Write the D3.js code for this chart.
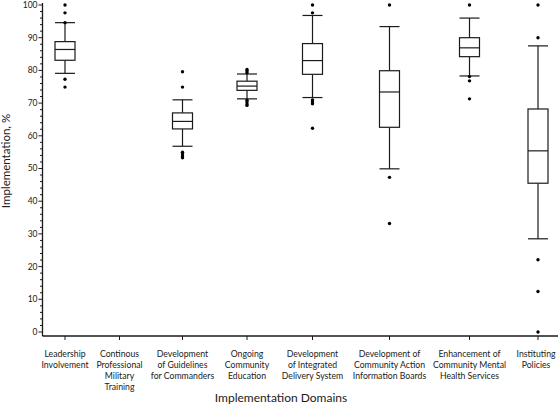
<!DOCTYPE html>
<html>
<head>
<meta charset="utf-8">
<script src="https://cdn.jsdelivr.net/npm/d3@7"></script>
<style>
  html, body { margin: 0; padding: 0; background: #fff; }
  svg { display: block; font-family: Lato, "Open Sans", sans-serif; }
</style>
</head>
<body>
<svg id="chart" width="558" height="409"></svg>
<script>
// ---- Data ----
const categories = [
  "Leadership Involvement",
  "Continous Professional Military Training",
  "Development of Guidelines for Commanders",
  "Ongoing Community Education",
  "Development of Integrated Delivery System",
  "Development of Community Action Information Boards",
  "Enhancement of Community Mental Health Services",
  "Instituting Policies"
];
const categoryLabelLines = [
  ["Leadership", "Involvement"],
  ["Continous", "Professional", "Military", "Training"],
  ["Development", "of Guidelines", "for Commanders"],
  ["Ongoing", "Community", "Education"],
  ["Development", "of Integrated", "Delivery System"],
  ["Development of", "Community Action", "Information Boards"],
  ["Enhancement of", "Community Mental", "Health Services"],
  ["Instituting", "Policies"]
];
const whiskerLow  = [79.1, null, 56.8, 71.3, 71.7, 49.9, 78.3, 28.5];
const q1          = [83.1, null, 62.1, 73.9, 78.8, 62.6, 84.2, 45.5];
const median      = [86.4, null, 64.4, 75.2, 83.0, 73.4, 86.9, 55.4];
const q3          = [88.8, null, 67.0, 76.7, 88.2, 79.9, 90.0, 68.2];
const whiskerHigh = [94.6, null, 71.0, 78.9, 96.8, 93.4, 96.0, 87.5];
const outliers = [
  [100, 97.6, 94.6, 77.3, 74.9],
  [],
  [79.6, 74.9, 55.0, 54.4, 53.8, 53.3],
  [80.3, 79.8, 79.3, 70.9, 70.3, 69.7, 69.3],
  [100, 97.6, 71.0, 70.4, 69.8, 62.3],
  [100, 47.3, 33.2],
  [100, 78.1, 76.8, 71.3],
  [100, 90.0, 22.1, 12.4, 0]
];
const yMajorTicks = [0, 10, 20, 30, 40, 50, 60, 70, 80, 90, 100];
const yMinorTicks = d3.range(0, 101, 2);
const yTitle = "Implementation, %";
const xTitle = "Implementation Domains";

// ---- Layout ----
const W = 558;
const svg = d3.select("#chart");
const axisX = 42.5, axisBottom = 336;
const y = d3.scaleLinear().domain([0, 100]).range([332, 5]);
const x = d3.scaleOrdinal()
  .domain(categories)
  .range([65, 119.5, 182.5, 247, 312.5, 389.5, 469.5, 538]);
const boxW = 20;
const ink = "#1a1a1a";

// Y axis
const gy = svg.append("g");
gy.append("line").attr("x1", axisX).attr("x2", axisX).attr("y1", 3).attr("y2", axisBottom)
  .attr("stroke", ink).attr("stroke-width", 1.3);
gy.selectAll(".minor").data(yMinorTicks.filter(v => v % 10 !== 0)).join("line")
  .attr("x1", axisX - 2.5).attr("x2", axisX)
  .attr("y1", d => y(d)).attr("y2", d => y(d))
  .attr("stroke", ink).attr("stroke-width", 1);
gy.selectAll(".major").data(yMajorTicks).join("line")
  .attr("x1", axisX - 4).attr("x2", axisX)
  .attr("y1", d => y(d)).attr("y2", d => y(d))
  .attr("stroke", ink).attr("stroke-width", 1);
gy.selectAll("text").data(yMajorTicks).join("text")
  .attr("x", axisX - 5).attr("y", d => y(d)).attr("dy", "0.35em")
  .attr("text-anchor", "end").attr("font-size", 8.5).attr("fill", ink)
  .text(d => d);

// X axis
const gx = svg.append("g");
gx.append("line").attr("x1", axisX).attr("x2", W).attr("y1", axisBottom).attr("y2", axisBottom)
  .attr("stroke", ink).attr("stroke-width", 1.3);
gx.selectAll(".tick").data(categories).join("line")
  .attr("x1", d => x(d)).attr("x2", d => x(d))
  .attr("y1", axisBottom).attr("y2", axisBottom + 4)
  .attr("stroke", ink).attr("stroke-width", 1);
gx.selectAll(".lbl").data(categories).join("text")
  .attr("text-anchor", "middle").attr("font-size", 8.7).attr("fill", ink)
  .attr("transform", d => `translate(${x(d)},${356.5})`)
  .each(function(d, i) {
    d3.select(this).selectAll("tspan").data(categoryLabelLines[i]).join("tspan")
      .attr("x", 0).attr("dy", (t, j) => j === 0 ? 0 : 11).text(t => t);
  })
  .each(function(d) {
    // keep labels inside the picture
    const bb = this.getBBox();
    const cx = x(d);
    let shift = 0;
    if (cx + bb.x + bb.width > W - 2) shift = (W - 2) - (cx + bb.x + bb.width);
    d3.select(this).attr("transform", `translate(${cx + shift},${356.5})`);
  });

// Titles
svg.append("text").attr("x", 281).attr("y", 402).attr("text-anchor", "middle")
  .attr("font-size", 12).attr("fill", ink).text(xTitle);
svg.append("text").attr("transform", "translate(10,161) rotate(-90)")
  .attr("text-anchor", "middle").attr("font-size", 11.5).attr("fill", ink).text(yTitle);

// Boxes
const boxes = svg.append("g");
categories.forEach((c, i) => {
  if (median[i] == null) return;
  const cx = x(c);
  const g = boxes.append("g");
  g.append("line").attr("x1", cx).attr("x2", cx)
    .attr("y1", y(whiskerHigh[i])).attr("y2", y(q3[i])).attr("stroke", ink).attr("stroke-width", 1.2);
  g.append("line").attr("x1", cx).attr("x2", cx)
    .attr("y1", y(q1[i])).attr("y2", y(whiskerLow[i])).attr("stroke", ink).attr("stroke-width", 1.2);
  [whiskerHigh[i], whiskerLow[i]].forEach(v => {
    g.append("line").attr("x1", cx - boxW / 2).attr("x2", cx + boxW / 2)
      .attr("y1", y(v)).attr("y2", y(v)).attr("stroke", ink).attr("stroke-width", 1.2);
  });
  g.append("rect").attr("x", cx - boxW / 2).attr("width", boxW)
    .attr("y", y(q3[i])).attr("height", y(q1[i]) - y(q3[i]))
    .attr("fill", "#fff").attr("stroke", ink).attr("stroke-width", 1.2);
  g.append("line").attr("x1", cx - boxW / 2).attr("x2", cx + boxW / 2)
    .attr("y1", y(median[i])).attr("y2", y(median[i])).attr("stroke", ink).attr("stroke-width", 1.2);
  g.selectAll("circle").data(outliers[i]).join("circle")
    .attr("cx", cx).attr("cy", d => y(d)).attr("r", 1.7).attr("fill", "#000");
});
</script>
</body>
</html>
